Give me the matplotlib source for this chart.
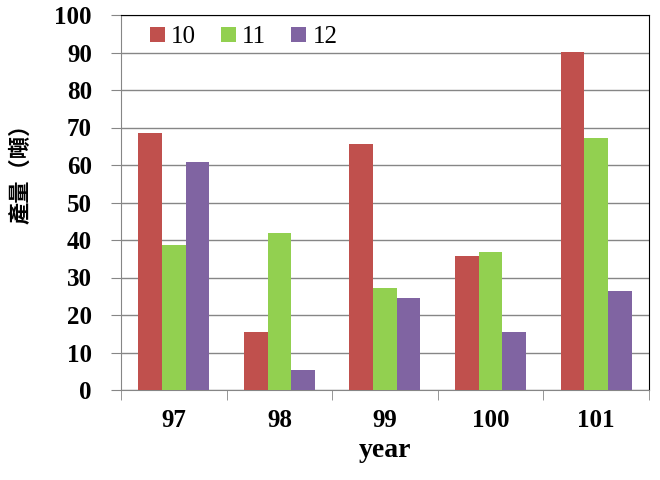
import matplotlib.pyplot as plt
import numpy as np

years = ['97', '98', '99', '100', '101']
series_names = ['10', '11', '12']
vals_10 = [68.5, 15.5, 65.6, 35.7, 90.1]
vals_11 = [38.7, 41.9, 27.2, 36.8, 67.2]
vals_12 = [60.8, 5.3, 24.5, 15.5, 26.4]
colors = ['#C0504D', '#92D050', '#8064A2']

fig = plt.figure(figsize=(6.6, 4.8), dpi=100)
ax = fig.add_axes([0.1833, 0.1875, 0.8, 0.78125])

x = np.arange(len(years))
w = 0.224
for i, (vals, name) in enumerate(zip([vals_10, vals_11, vals_12], series_names)):
    ax.bar(x + (i - 1) * w, vals, width=w, color=colors[i], label=name, zorder=3)

ax.set_xlim(-0.5, len(years) - 0.5)
ax.set_ylim(0, 100)
ax.set_yticks(range(0, 101, 10))
ax.yaxis.grid(True, color='#868686', linewidth=1, zorder=0)

ax.set_xticks(x)
ax.set_xticklabels(years, fontfamily='Liberation Serif', fontweight='bold', fontsize=18)
ax.set_xticks(np.arange(-0.5, len(years)), minor=True)
ax.tick_params(axis='x', which='major', length=0, pad=14)
ax.tick_params(axis='x', which='minor', length=7, color='#868686', direction='out')
for lab in ax.get_yticklabels():
    lab.set_fontfamily('Liberation Serif')
    lab.set_fontweight('bold')
    lab.set_fontsize(18)
ax.tick_params(axis='y', length=7, color='#868686', pad=14)

for s in ['left', 'bottom']:
    ax.spines[s].set_color('#868686')
for s in ['top', 'right']:
    ax.spines[s].set_color('black')

ax.set_xlabel('year', fontfamily='Liberation Serif', fontweight='bold', fontsize=20, labelpad=4)
ax.set_ylabel('產量（噸）', fontfamily=['Noto Sans CJK TC', 'DejaVu Sans'], fontweight='bold',
              fontsize=16)
ax.yaxis.set_label_coords(-0.168, 0.59)

ax.legend(loc='upper left', ncol=3, frameon=False, prop={'family': 'Liberation Serif', 'size': 18},
          handlelength=0.6, handleheight=0.6, handletextpad=0.25, columnspacing=1.0,
          bbox_to_anchor=(0.012, 1.03))

fig.savefig('out.png', dpi=100)
